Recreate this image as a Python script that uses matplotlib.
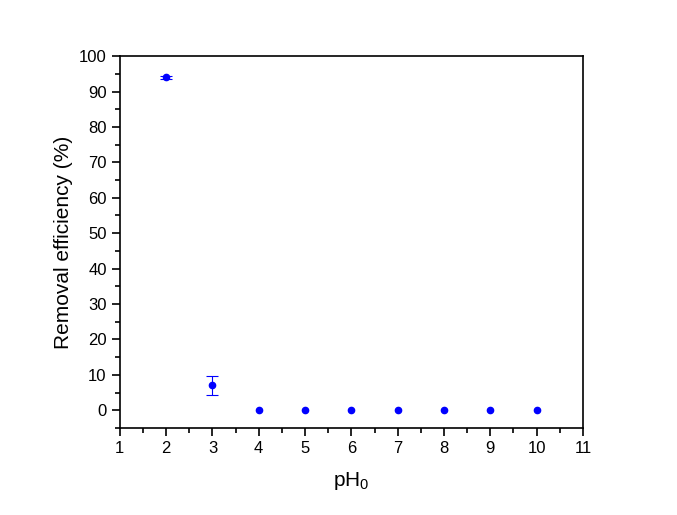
import matplotlib
matplotlib.use('Agg')
import matplotlib.pyplot as plt
from matplotlib.ticker import MultipleLocator

plt.rcParams['font.family'] = ['Liberation Sans', 'DejaVu Sans']
plt.rcParams['mathtext.fontset'] = 'custom'
plt.rcParams['mathtext.rm'] = 'Liberation Sans'
plt.rcParams['mathtext.it'] = 'Liberation Sans:italic'

ph = [2, 3, 4, 5, 6, 7, 8, 9, 10]
removal = [94.0, 7.1, 0, 0, 0, 0, 0, 0, 0]
err = [0.5, 2.7, 0, 0, 0, 0, 0, 0, 0]

fig = plt.figure(figsize=(6.77, 5.15), dpi=100)
ax = fig.add_axes([0.177, 0.169, 0.684, 0.722])

# error bars only where there is a spread
ex = [p for p, e in zip(ph, err) if e > 0]
ey = [r for r, e in zip(removal, err) if e > 0]
ee = [e for e in err if e > 0]
ax.errorbar(ex, ey, yerr=ee, fmt='none', ecolor='#0000ff',
            elinewidth=0.8, capsize=4, capthick=0.8)
ax.plot(ph, removal, 'o', color='#0000ff', ms=4.5)

ax.set_xlim(1, 11)
ax.set_ylim(-5, 100)
ax.xaxis.set_major_locator(MultipleLocator(1))
ax.xaxis.set_minor_locator(MultipleLocator(0.5))
ax.yaxis.set_major_locator(MultipleLocator(10))
ax.yaxis.set_minor_locator(MultipleLocator(5))
ax.tick_params(which='both', direction='out', top=False, right=False, width=1.2, labelsize=12)
ax.tick_params(which='major', length=6)
ax.tick_params(which='minor', length=3.5)
for s in ax.spines.values():
    s.set_linewidth(1.2)

ax.set_xlabel(r'pH$_\mathregular{0}$', fontsize=15, labelpad=10)
ax.set_ylabel('Removal efficiency (%)', fontsize=15)

fig.savefig('out.png', dpi=100)
